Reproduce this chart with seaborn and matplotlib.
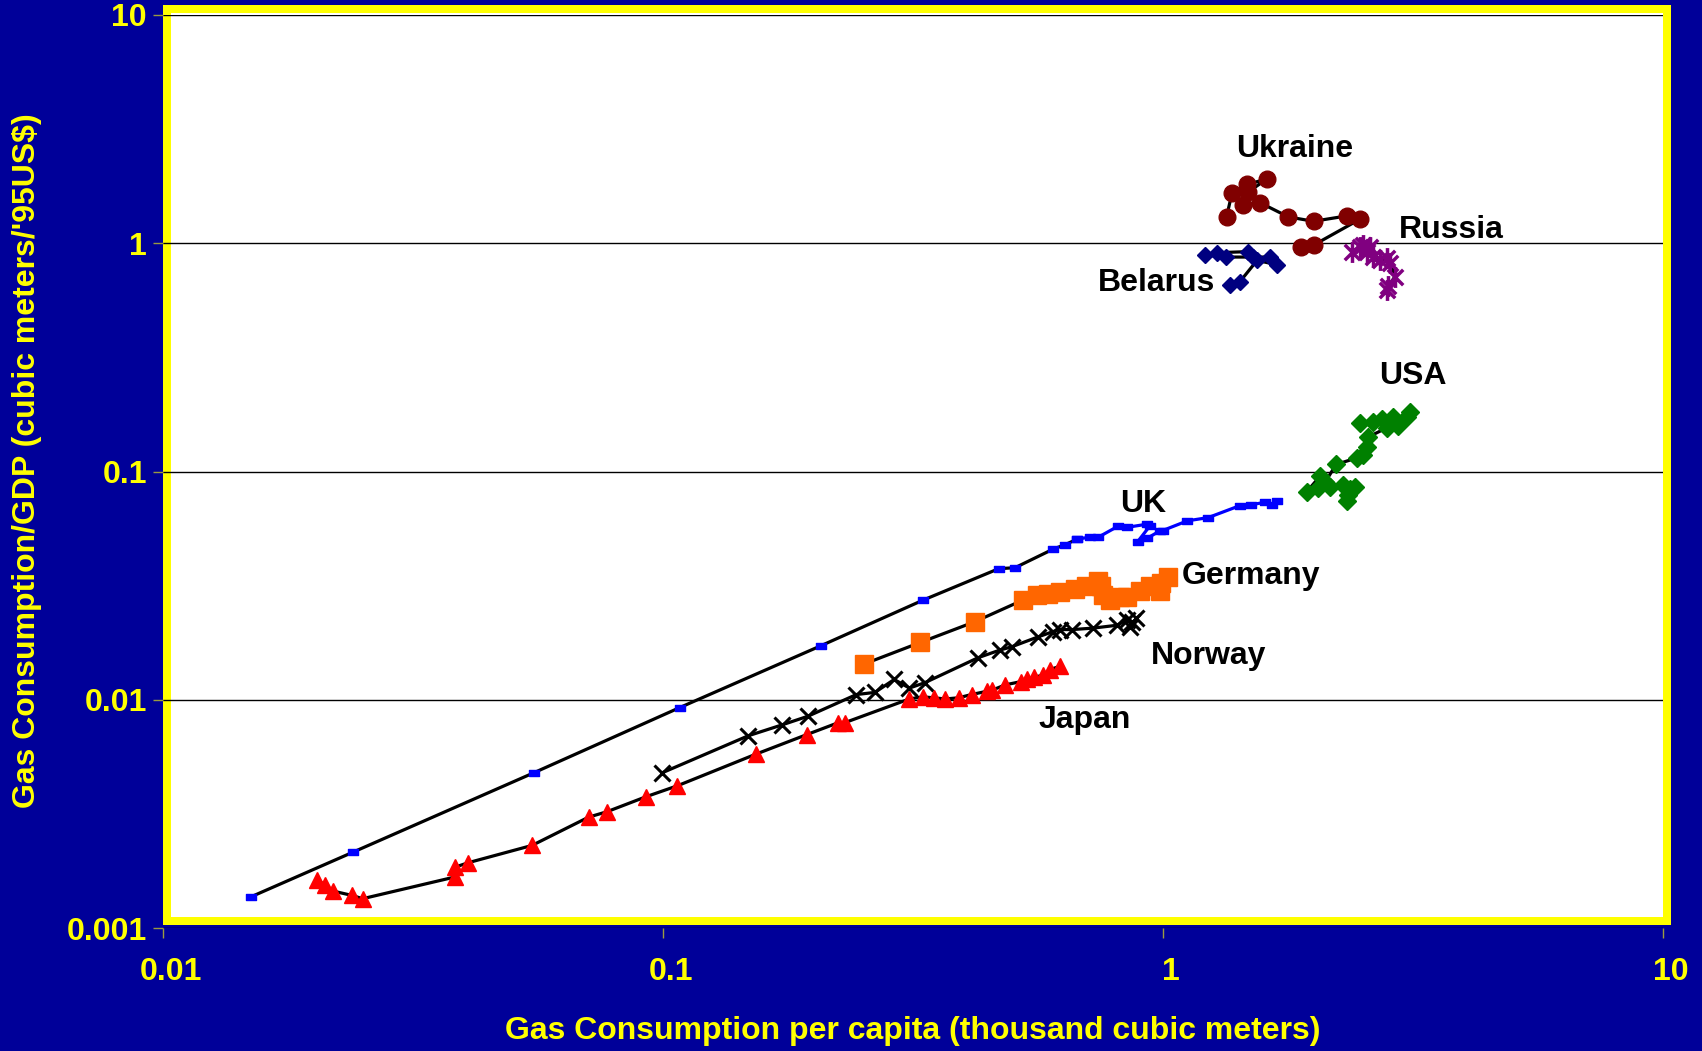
import matplotlib
matplotlib.use("Agg")
import matplotlib.pyplot as plt
from matplotlib.path import Path
from matplotlib.patches import Rectangle
from matplotlib.transforms import ScaledTranslation
import seaborn as sns

# ---- data: gas consumption per capita (thousand m3) vs gas consumption / GDP ----
uk_x = [0.0150, 0.0240, 0.0552, 0.108, 0.207, 0.331, 0.469, 0.506, 0.603, 0.637,
        0.673, 0.714, 0.743, 0.812, 0.846, 0.930, 0.940, 0.890, 0.930, 0.988,
        0.998, 1.119, 1.231, 1.423, 1.503, 1.597, 1.654, 1.687]
uk_y = [0.00137, 0.00215, 0.00479, 0.00924, 0.01725, 0.0273, 0.0375, 0.0379, 0.0457, 0.0478,
        0.0505, 0.0516, 0.0516, 0.0575, 0.0569, 0.0588, 0.0575, 0.0493, 0.0510, 0.0551,
        0.0551, 0.0608, 0.0628, 0.0708, 0.0716, 0.0732, 0.0716, 0.0740]

germany_x = [0.252, 0.327, 0.420, 0.524, 0.559, 0.588, 0.621, 0.666, 0.700, 0.743,
             0.750, 0.758, 0.782, 0.821, 0.846, 0.899, 0.940, 0.988, 0.993, 1.023]
germany_y = [0.01432, 0.01782, 0.02195, 0.0273, 0.0288, 0.0292, 0.0298, 0.0305, 0.0315, 0.0333,
             0.0315, 0.0288, 0.0273, 0.0282, 0.0282, 0.0301, 0.0315, 0.0301, 0.0326, 0.0344]

norway_x = [0.0997, 0.148, 0.1727, 0.1947, 0.2437, 0.2654, 0.290, 0.311, 0.334, 0.427, 0.4716,
            0.498, 0.5617, 0.603, 0.621, 0.659, 0.725, 0.809, 0.846, 0.868, 0.859, 0.885]
norway_y = [0.00479, 0.00695, 0.00775, 0.00846, 0.01054, 0.01077, 0.01227, 0.01125, 0.01188,
            0.01529, 0.0165, 0.01706, 0.01883, 0.0199, 0.0203, 0.0203, 0.0206, 0.0212, 0.0224,
            0.0219, 0.0208, 0.0227]

japan_x = [0.02033, 0.02105, 0.02192, 0.02385, 0.02508, 0.03836, 0.03836, 0.0407, 0.0547,
           0.0710, 0.0772, 0.0925, 0.1069, 0.1532, 0.1937, 0.224, 0.2307, 0.311, 0.3307,
           0.3476, 0.367, 0.390, 0.414, 0.444, 0.455, 0.4835, 0.519, 0.535, 0.553, 0.576,
           0.5934, 0.621]
japan_y = [0.00162, 0.00155, 0.00145, 0.00139, 0.001344, 0.001673, 0.001846, 0.00193, 0.0023,
           0.00306, 0.00323, 0.00376, 0.0042, 0.00577, 0.00703, 0.00793, 0.00793, 0.01008,
           0.0103, 0.0102, 0.01008, 0.0102, 0.01054, 0.01089, 0.01101, 0.01162, 0.0120,
           0.01228, 0.01255, 0.01283, 0.01355, 0.0140]

usa_x = [2.479, 2.633, 2.739, 2.880, 3.073, 3.119, 2.953, 2.809, 2.567, 2.554, 2.516, 2.442,
         2.220, 2.112, 2.060, 1.940, 2.039, 2.155, 2.288, 2.334, 2.346, 2.370, 2.418]
usa_y = [0.1628, 0.1646, 0.1701, 0.1738, 0.1738, 0.1816, 0.1575, 0.1558, 0.1412, 0.128,
         0.1185, 0.1147, 0.1074, 0.0901, 0.0952, 0.0817, 0.0844, 0.0853, 0.0872, 0.0740,
         0.0790, 0.0834, 0.0853]

ukraine_x = [1.892, 2.000, 2.479, 2.334, 2.000, 1.782, 1.565, 1.445, 1.481, 1.613, 1.474,
             1.374, 1.340]
ukraine_y = [0.960, 0.981, 1.276, 1.318, 1.248, 1.304, 1.504, 1.471, 1.677, 1.913, 1.811,
             1.660, 1.304]

belarus_x = [1.481, 1.281, 1.213, 1.334, 1.511, 1.637, 1.687, 1.542, 1.423, 1.361]
belarus_y = [0.919, 0.909, 0.889, 0.870, 0.870, 0.870, 0.806, 0.841, 0.676, 0.654]

russia_x = [2.393, 2.479, 2.516, 2.593, 2.554, 2.633, 2.713, 2.809, 2.851, 2.909, 2.823, 2.809]
russia_y = [0.919, 0.960, 0.981, 0.960, 0.919, 0.870, 0.841, 0.860, 0.823, 0.714, 0.647, 0.626]

x_ticks = [0.01, 0.1, 1, 10]
x_tick_labels = ["0.01", "0.1", "1", "10"]
y_ticks = [0.001, 0.01, 0.1, 1, 10]
y_tick_labels = ["0.001", "0.01", "0.1", "1", "10"]

x_title = "Gas Consumption per capita (thousand cubic meters)"
y_title = "Gas Consumption/GDP (cubic meters/'95US$)"

# ---- style ----
sns.set_theme(style="white")
plt.rcParams["font.family"] = ["Liberation Sans", "DejaVu Sans"]
plt.rcParams["font.weight"] = "bold"

BG = "#000099"
YELLOW = "#FFFF00"
W, H = 1702, 1051

fig = plt.figure(figsize=(W / 100, H / 100), dpi=100, facecolor=BG)
ax = fig.add_axes([163 / W, 1 - 928 / H, 1500 / W, 913 / H])
ax.set_facecolor("none")

# white plotting panel with a thick yellow border
panel = Rectangle((166.5 / W, 1 - 920.5 / H), (1667 - 166.5) / W, (920.5 - 9) / H,
                  transform=fig.transFigure, facecolor="white", edgecolor=YELLOW,
                  linewidth=8 * 0.72, zorder=-1)
fig.add_artist(panel)

ax.set_xscale("log")
ax.set_yscale("log")

# marker shapes
dash_marker = Path([(-1, -0.55), (1, -0.55), (1, 0.55), (-1, 0.55), (-1, -0.55)],
                   [Path.MOVETO, Path.LINETO, Path.LINETO, Path.LINETO, Path.CLOSEPOLY])
star_marker = Path([(-1, -1), (1, 1), (-1, 1), (1, -1), (0, -1.35), (0, 1.35)],
                   [Path.MOVETO, Path.LINETO, Path.MOVETO, Path.LINETO, Path.MOVETO, Path.LINETO])


def series(xs, ys, marker, color, ms, line="black", mew=1.0, mfc=None):
    sns.lineplot(x=xs, y=ys, sort=False, estimator=None, ax=ax, color=line, lw=2.3,
                 marker=marker, markersize=ms,
                 markerfacecolor=color if mfc is None else mfc,
                 markeredgecolor=color, markeredgewidth=mew, zorder=3)


split = 10
series(uk_x[:split + 1], uk_y[:split + 1], dash_marker, "#0000FF", 7.5)
series(uk_x[split:], uk_y[split:], dash_marker, "#0000FF", 7.5, line="#0000FF")
series(germany_x, germany_y, "s", "#FF6600", 12.5)
series(norway_x, norway_y, "x", "black", 12, mew=2.2)
series(japan_x, japan_y, "^", "#FF0000", 12)
series(usa_x, usa_y, "D", "#008000", 9)
series(ukraine_x, ukraine_y, "o", "#800000", 12)
series(belarus_x, belarus_y, "D", "#000080", 8.5)
series(russia_x, russia_y, star_marker, "#800080", 15, mew=2.5, mfc="none")

# country names
names = {
    "Ukraine": (1.837, 2.658),
    "Russia": (3.773, 1.182),
    "Belarus": (0.969, 0.691),
    "USA": (3.166, 0.2694),
    "UK": (0.912, 0.074),
    "Germany": (1.503, 0.0359),
    "Norway": (1.231, 0.01597),
    "Japan": (0.697, 0.00837),
}
shift = ScaledTranslation(0, -3 / 100, fig.dpi_scale_trans)
for name, (tx, ty) in names.items():
    ax.text(tx, ty, name, ha="center", va="center", fontsize=23, fontweight="bold",
            color="black", zorder=5, transform=ax.transData + shift)

# axes, ticks and grid
ax.set_xlim(0.01, 10)
ax.set_ylim(0.001, 10)
ax.set_xticks(x_ticks, x_tick_labels)
ax.set_yticks(y_ticks, y_tick_labels)
ax.minorticks_off()
for s in ax.spines.values():
    s.set_visible(False)
ax.yaxis.grid(True, color="black", linewidth=1.0, zorder=1)
ax.xaxis.grid(False)
ax.set_axisbelow(True)
ax.tick_params(axis="both", which="major", direction="out", length=7, width=1,
               color="#9a9a40", labelcolor=YELLOW, labelsize=23)
ax.tick_params(axis="y", pad=4.5, left=True)
ax.tick_params(axis="x", pad=14, bottom=True)
for lbl in ax.get_xticklabels():
    lbl.set_fontweight("bold")
    lbl.set_transform(lbl.get_transform() + ScaledTranslation(8 / 100, 0, fig.dpi_scale_trans))
for lbl in ax.get_yticklabels():
    lbl.set_fontweight("bold")

ax.set_xlabel(x_title, fontsize=23, fontweight="bold", color=YELLOW)
ax.set_ylabel(y_title, fontsize=23, fontweight="bold", color=YELLOW)
ax.xaxis.label.set_va("center")
ax.yaxis.label.set_va("center")
ax.xaxis.set_label_coords(0.5, (928 - 1031) / 913)
ax.yaxis.set_label_coords((27 - 163) / 1500, (928 - 461) / 913)

fig.savefig("out.png", dpi=100, facecolor=fig.get_facecolor())
